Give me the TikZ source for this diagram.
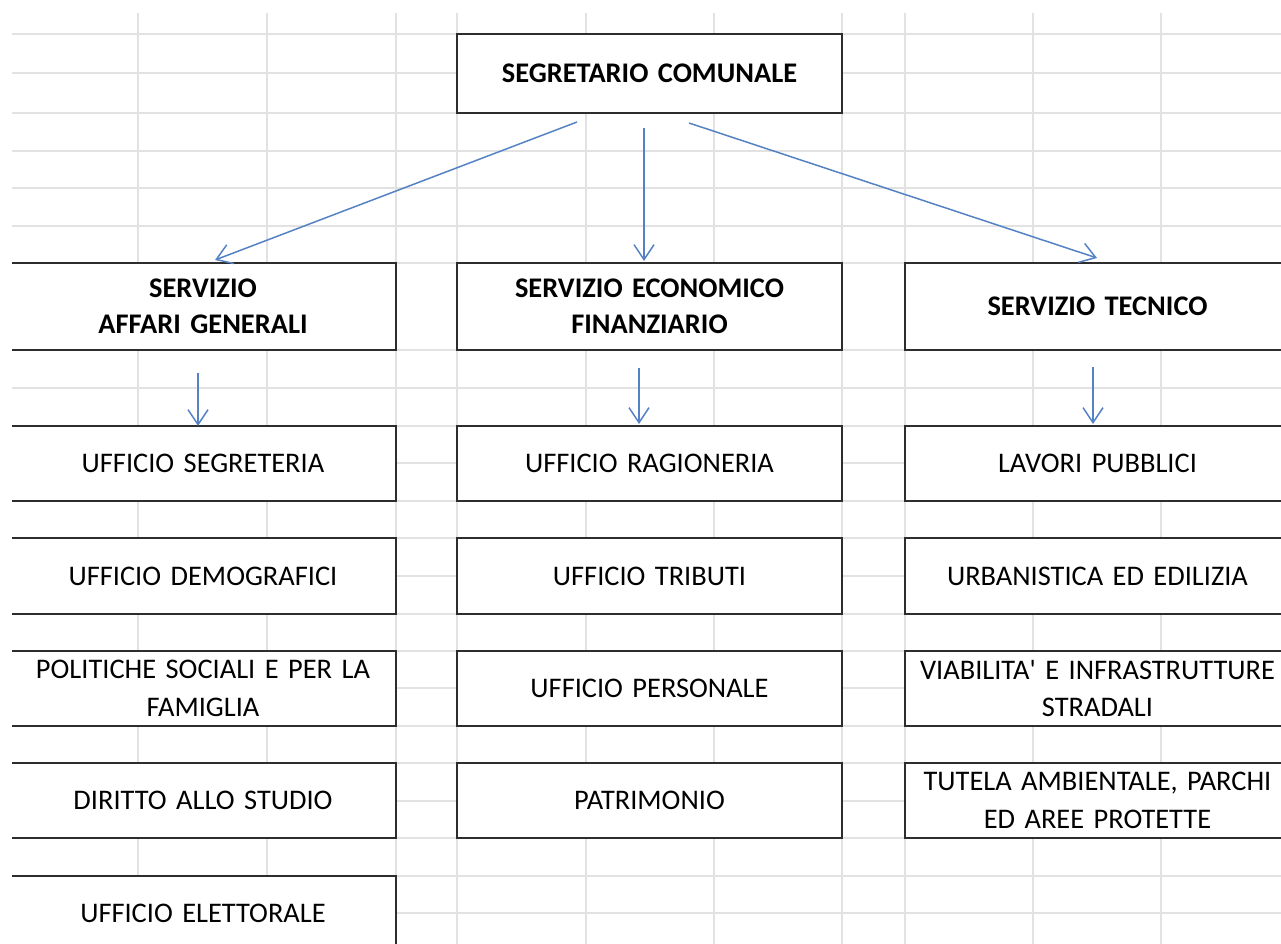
\documentclass[tikz,border=0pt]{standalone}
\usepackage{fontspec}
\setmainfont{Carlito}[Ligatures=TeXOff, WordSpace=0.6]
\usetikzlibrary{arrows.meta,calc}
\definecolor{gridgray}{RGB}{226,226,226}
\definecolor{boxgray}{RGB}{45,45,45}
\definecolor{arrowblue}{RGB}{84,130,196}
\begin{document}
\begin{tikzpicture}[x=1pt,y=-1pt,
  gridline/.style={draw=gridgray, line width=1.6pt},
  box/.style={draw=boxgray, line width=2pt, fill=white, inner sep=0pt, align=center,
    text width=380pt, minimum height=75pt, font=\fontsize{28.4}{37.5}\selectfont},
  wbox/.style={box, minimum width=386pt},
  hbox/.style={box, minimum width=386pt, minimum height=87pt, font=\fontsize{28.4}{36.5}\selectfont\bfseries},
  conn/.style={draw=arrowblue, line width=1.5pt, -{Straight Barb[length=15pt,width=20pt,line width=1.5pt]}}]
\useasboundingbox (0,0) rectangle (1281,944);
\clip (12,13) rectangle (1281,944);
% spreadsheet grid
\foreach \x in {138,267,396,457,586,714,842,905,1033,1161}
  \draw[gridline] (\x,13) -- (\x,944);
\foreach \y in {34,73,113,151,188,226,263,350,388,426,463,501,538,576,614,651,688,726,763,801,838,876,913}
  \draw[gridline] (12,\y) -- (1281,\y);
% top
\node[box, minimum width=385pt, minimum height=79pt, font=\fontsize{28.4}{36.5}\selectfont\bfseries] (sc) at (649.5,73.5) {SEGRETARIO COMUNALE};
% services
\node[hbox] (s1) at (203,306.5) {SERVIZIO\\AFFARI GENERALI};
\node[hbox, minimum width=385pt] (s2) at (649.5,306.5) {SERVIZIO ECONOMICO\\FINANZIARIO};
\node[hbox, minimum width=385pt] (s3) at (1097.5,306.5) {SERVIZIO TECNICO};
% left column
\node[wbox] (u1) at (203,463.5) {UFFICIO SEGRETERIA};
\node[wbox, minimum height=76pt] (u2) at (203,576) {UFFICIO DEMOGRAFICI};
\node[wbox] (u3) at (203,688.5) {POLITICHE SOCIALI E PER LA\\FAMIGLIA};
\node[wbox] (u4) at (203,800.5) {DIRITTO ALLO STUDIO};
\node[wbox] (u5) at (203,913.5) {UFFICIO ELETTORALE};
% middle column
\node[box, minimum width=385pt] (r1) at (649.5,463.5) {UFFICIO RAGIONERIA};
\node[box, minimum width=385pt, minimum height=76pt] (r2) at (649.5,576) {UFFICIO TRIBUTI};
\node[box, minimum width=385pt] (r3) at (649.5,688.5) {UFFICIO PERSONALE};
\node[box, minimum width=385pt] (r4) at (649.5,800.5) {PATRIMONIO};
% right column
\node[box, minimum width=385pt] (t1) at (1097.5,463.5) {LAVORI PUBBLICI};
\node[box, minimum width=385pt, minimum height=76pt] (t2) at (1097.5,576) {URBANISTICA ED EDILIZIA};
\node[box, minimum width=385pt] (t3) at (1097.5,688.5) {VIABILITA' E INFRASTRUTTURE\\STRADALI};
\node[box, minimum width=385pt] (t4) at (1097.5,800.5) {TUTELA AMBIENTALE, PARCHI\\ED AREE PROTETTE};
% connectors
\draw[conn] ($(sc.south)+(-72.5,8)$) -- ($(s1.north)+(12,-2)$);
\draw[conn] ($(sc.south)+(-5.5,14)$) -- ($(s2.north)+(-5.5,-1)$);
\draw[conn] ($(sc.south)+(39.5,9)$) -- ($(s3.north)+(-0.5,-4)$);
\draw[conn] ($(s1.south)+(-5,22)$) -- ($(u1.north)+(-5,1)$);
\draw[conn] ($(s2.south)+(-10.5,17)$) -- ($(r1.north)+(-10.5,-1)$);
\draw[conn] ($(s3.south)+(-4.5,16)$) -- ($(t1.north)+(-4.5,-1)$);
\end{tikzpicture}
\end{document}
